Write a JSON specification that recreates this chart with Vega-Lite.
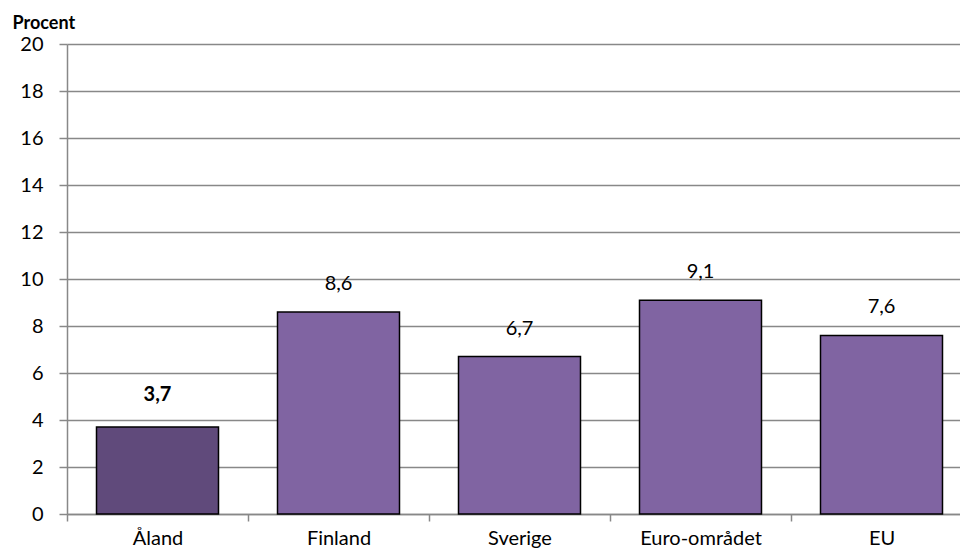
{
  "$schema": "https://vega.github.io/schema/vega-lite/v6.json",
  "autosize": {"type": "none"},
  "padding": {"left": 67, "top": 44, "right": 0, "bottom": 42},
  "width": 893,
  "height": 470,
  "background": "white",
  "config": {
    "view": {"stroke": null},
    "font": "Lato",
    "axis": {"labelFont": "Lato", "titleFont": "Lato", "labelColor": "black", "titleColor": "black"}
  },
  "data": {
    "values": [
      {"region": "Åland", "value": 3.7, "label": "3,7", "highlight": "yes"},
      {"region": "Finland", "value": 8.6, "label": "8,6", "highlight": "no"},
      {"region": "Sverige", "value": 6.7, "label": "6,7", "highlight": "no"},
      {"region": "Euro-området", "value": 9.1, "label": "9,1", "highlight": "no"},
      {"region": "EU", "value": 7.6, "label": "7,6", "highlight": "no"}
    ]
  },
  "encoding": {
    "x": {
      "field": "region", "type": "nominal", "sort": null,
      "scale": {"range": [0, 905], "paddingInner": 0.326, "paddingOuter": 0.163},
      "axis": {
        "title": null, "labelAngle": 0, "labelFontSize": 20, "labelPadding": 7,
        "tickOffset": -90.5, "labelOffset": 90.5, "tickSize": 7, "tickColor": "#888888", "domainColor": "#888888",
        "domainWidth": 1.5, "tickWidth": 1.5, "grid": false
      }
    },
    "y": {
      "field": "value", "type": "quantitative",
      "scale": {"domain": [0, 20], "nice": false},
      "axis": {
        "values": [0, 2, 4, 6, 8, 10, 12, 14, 16, 18, 20],
        "title": "Procent", "titleAngle": 0, "titleAlign": "left", "titleBaseline": "alphabetic",
        "titleX": -55, "titleY": -16, "titleFontSize": 18, "titleFontWeight": "bold",
        "labelFontSize": 20, "labelPadding": 16, "tickSize": 8, "tickColor": "#888888",
        "domainColor": "#888888", "domainWidth": 1.5, "tickWidth": 1.5,
        "gridColor": "#888888", "gridWidth": 1.5
      }
    }
  },
  "layer": [
    {
      "mark": {"type": "bar", "stroke": "black", "strokeWidth": 1.5},
      "encoding": {
        "color": {
          "field": "highlight", "type": "nominal",
          "scale": {"domain": ["yes", "no"], "range": ["#604A7B", "#8064A2"]},
          "legend": null
        }
      }
    },
    {
      "transform": [{"filter": "datum.highlight === 'no'"}],
      "mark": {"type": "text", "baseline": "middle", "dy": -28, "fontSize": 20, "fontWeight": "normal"},
      "encoding": {"text": {"field": "label"}}
    },
    {
      "transform": [{"filter": "datum.highlight === 'yes'"}],
      "mark": {"type": "text", "baseline": "middle", "dy": -32, "fontSize": 20, "fontWeight": "bold"},
      "encoding": {"text": {"field": "label"}}
    }
  ]
}
